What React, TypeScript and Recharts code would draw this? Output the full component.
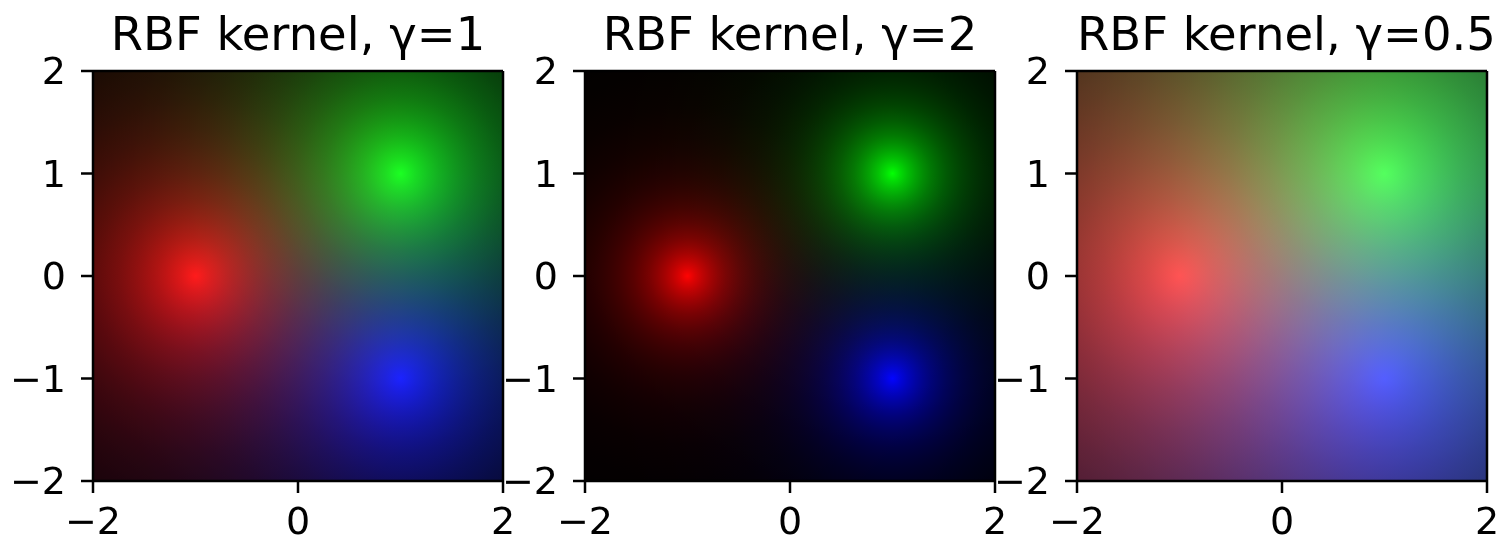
import React from 'react';
import { ScatterChart, Scatter, XAxis, YAxis, ReferenceLine } from 'recharts';

// kernel centres (one per colour channel)
const CENTER_X = [-1, 1, 1];
const CENTER_Y = [0, 1, -1];
const CHANNELS = ['r', 'g', 'b'];

// one panel per gamma
const GAMMAS = [1, 2, 0.5];
const TITLES = ['RBF kernel, γ=1', 'RBF kernel, γ=2', 'RBF kernel, γ=0.5'];

const X_TICKS = [-2, 0, 2];
const Y_TICKS = [-2, -1, 0, 1, 2];

const FONT = '"DejaVu Sans", sans-serif';
const PX_PER_UNIT = 410 / 4;
const REACH = 4.5; // gradient radius in data units, covers the whole square
const STOPS = 60;

const centers = CENTER_X.map((x, i) => ({ x, y: CENTER_Y[i], ch: CHANNELS[i] }));

const fmt = (v: number) => (v < 0 ? `\u2212${Math.abs(v)}` : `${v}`);

const channelColor = (ch: string, v: number) => {
  const c = Math.round(255 * v);
  if (ch === 'r') return `rgb(${c},0,0)`;
  if (ch === 'g') return `rgb(0,${c},0)`;
  return `rgb(0,0,${c})`;
};

const Panel: React.FC<{ gamma: number; idx: number }> = ({ gamma, idx }) => {
  const stops = Array.from({ length: STOPS + 1 }, (_, k) => k / STOPS);
  const Blob = (props: any) => {
    const { cx, cy, payload } = props;
    return (
      <circle
        cx={cx}
        cy={cy}
        r={REACH * PX_PER_UNIT}
        fill={`url(#grad-${idx}-${payload.ch})`}
        style={{ mixBlendMode: 'lighten' }}
      />
    );
  };
  return (
    <ScatterChart width={519} height={542} margin={{ top: 71, right: 16, bottom: 0, left: 0 }}>
      <defs>
        {CHANNELS.map((ch) => (
          <radialGradient key={ch} id={`grad-${idx}-${ch}`} cx="50%" cy="50%" r="50%">
            {stops.map((t) => (
              <stop key={t} offset={t} stopColor={channelColor(ch, Math.exp(-gamma * t * REACH))} />
            ))}
          </radialGradient>
        ))}
      </defs>
      <XAxis
        type="number"
        dataKey="x"
        domain={[-2, 2]}
        ticks={X_TICKS}
        allowDataOverflow
        height={61}
        tickSize={12}
        tickMargin={14}
        tickFormatter={fmt}
        tick={{ fontSize: 38, fill: '#000', fontFamily: FONT }}
        axisLine={{ stroke: '#000', strokeWidth: 2.5 }}
        tickLine={{ stroke: '#000', strokeWidth: 2.5 }}
      />
      <YAxis
        type="number"
        dataKey="y"
        domain={[-2, 2]}
        ticks={Y_TICKS}
        allowDataOverflow
        width={93}
        tickSize={12}
        tickMargin={15}
        tickFormatter={fmt}
        tick={{ fontSize: 38, fill: '#000', fontFamily: FONT }}
        axisLine={{ stroke: '#000', strokeWidth: 2.5 }}
        tickLine={{ stroke: '#000', strokeWidth: 2.5 }}
      />
      <Scatter data={centers} shape={Blob} isAnimationActive={false} zIndex={0} />
      <ReferenceLine y={2} stroke="#000" strokeWidth={2.5} ifOverflow="visible" zIndex={1000} />
      <ReferenceLine x={2} stroke="#000" strokeWidth={2.5} ifOverflow="visible" zIndex={1000} />
    </ScatterChart>
  );
};

export default function App() {
  return (
    <div style={{ position: 'absolute', left: 0, top: 0, width: 1503, height: 542, background: '#fff' }}>
      {GAMMAS.map((g, i) => (
        <div key={i} style={{ position: 'absolute', left: 492 * i, top: 0 }}>
          <div
            style={{
              position: 'absolute',
              left: 93,
              top: 11,
              width: 410,
              textAlign: 'center',
              fontFamily: FONT,
              fontSize: 46.5,
              lineHeight: '46px',
              whiteSpace: 'nowrap',
              color: '#000',
            }}
          >
            {TITLES[i]}
          </div>
          <Panel gamma={g} idx={i} />
        </div>
      ))}
    </div>
  );
}
